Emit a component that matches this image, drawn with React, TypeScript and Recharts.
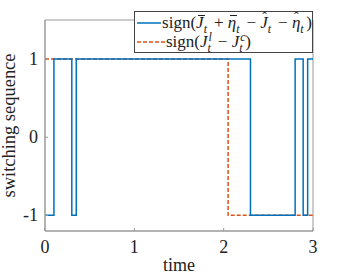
import { LineChart, Line, XAxis, YAxis, ReferenceArea } from "recharts";

// switching times / values (step after)
const blueT = [0, 0.1, 0.3, 0.35, 2.3, 2.8, 2.89, 2.94, 3];
const blueV = [-1, 1, -1, 1, -1, 1, -1, 1, 1];
const orangeT = [0, 2.05, 3];
const orangeV = [1, -1, -1];
const xTicks = [0, 1, 2, 3];
const yTicks = [-1, 0, 1];

const blueData = blueT.map((t, i) => ({ t, v: blueV[i] }));
const orangeData = orangeT.map((t, i) => ({ t, v: orangeV[i] }));

const BLUE = "#0072BD";
const ORANGE = "#D95319";
const FONT = "'Liberation Serif', 'Times New Roman', Times, serif";
const TXT = "#222";

const XTick = (props: any) => {
  const { x, y, payload } = props;
  return (
    <g>
      <line x1={x} y1={y} x2={x} y2={y - 3} stroke="#999" />
      <text x={x} y={y + 22} textAnchor="middle" style={{ fontFamily: FONT, fontSize: 18 }} fill={TXT}>
        {payload.value}
      </text>
    </g>
  );
};

const YTick = (props: any) => {
  const { x, y, payload } = props;
  return (
    <g>
      <line x1={x} y1={y} x2={x + 3} y2={y} stroke="#999" />
      <text x={x - 7} y={y + 6} textAnchor="end" style={{ fontFamily: FONT, fontSize: 18 }} fill={TXT}>
        {payload.value}
      </text>
    </g>
  );
};

const YLabel = (props: any) => {
  const vb = props.viewBox;
  const cx = 15;
  const cy = vb.y + vb.height / 2;
  return (
    <text
      x={cx}
      y={cy}
      transform={`rotate(-90 ${cx} ${cy})`}
      textAnchor="middle"
      textLength={144}
      lengthAdjust="spacingAndGlyphs"
      style={{ fontFamily: FONT, fontSize: 18 }}
      fill={TXT}
    >
      switching sequence
    </text>
  );
};

const XLabel = (props: any) => {
  const vb = props.viewBox;
  return (
    <text
      x={vb.x + vb.width / 2}
      y={271}
      textAnchor="middle"
      textLength={32}
      lengthAdjust="spacingAndGlyphs"
      style={{ fontFamily: FONT, fontSize: 18 }}
      fill={TXT}
    >
      time
    </text>
  );
};

// italic letter with a bar or hat drawn above it
const Acc = ({ c, kind }: { c: string; kind: "bar" | "hat" }) => (
  <span style={{ position: "relative", display: "inline-block" }}>
    <i>{c}</i>
    {kind === "bar" ? (
      <span style={{ position: "absolute", left: 2, right: -1, top: 2, borderTop: "1px solid #222" }} />
    ) : (
      <span style={{ position: "absolute", left: 2, top: -5, fontSize: 14 }}>ˆ</span>
    )}
  </span>
);

// sub/superscript pair stacked after a symbol
const Scripts = ({ sup, sub }: { sup?: string; sub: string }) => (
  <span style={{ position: "relative", display: "inline-block", width: 6, height: 10, fontSize: 12 }}>
    {sup && <i style={{ position: "absolute", left: 1, top: -9 }}>{sup}</i>}
    <i style={{ position: "absolute", left: 0, top: 2 }}>{sub}</i>
  </span>
);

const LegendBox = () => (
  <div
    style={{
      position: "absolute",
      left: 134,
      top: 11,
      width: 179,
      height: 42,
      background: "#fff",
      border: "1px solid #444",
      boxSizing: "border-box",
      fontFamily: FONT,
      fontSize: 17,
      color: TXT,
      lineHeight: "19px",
      padding: "1px 0 0 2px",
    }}
  >
    <div style={{ display: "flex", alignItems: "center", whiteSpace: "nowrap" }}>
      <svg width={28} height={10} style={{ marginRight: 1 }}>
        <line x1={0} y1={5} x2={28} y2={5} stroke={BLUE} strokeWidth={1.5} />
      </svg>
      <span>
        sign(<Acc c="J" kind="bar" />
        <Scripts sub="t" /> + <Acc c="η" kind="bar" />
        <Scripts sub="t" /> − <Acc c="J" kind="hat" />
        <Scripts sub="t" /> − <Acc c="η" kind="hat" />
        <Scripts sub="t" />)
      </span>
    </div>
    <div style={{ display: "flex", alignItems: "center", whiteSpace: "nowrap" }}>
      <svg width={28} height={10} style={{ marginRight: 1 }}>
        <line x1={0} y1={5} x2={28} y2={5} stroke={ORANGE} strokeWidth={1.5} strokeDasharray="4 2" />
      </svg>
      <span>
        sign(<i>J</i>
        <Scripts sup="l" sub="t" /> − <i>J</i>
        <Scripts sup="c" sub="t" />)
      </span>
    </div>
  </div>
);

export default function App() {
  return (
    <div style={{ position: "absolute", left: 0, top: 0, width: 346, height: 278, background: "#fff", fontFamily: FONT }}>
      <LineChart width={346} height={278} margin={{ top: 20, right: 33, bottom: 0, left: 0 }}>
        <XAxis
          type="number"
          dataKey="t"
          domain={[0, 3]}
          ticks={xTicks}
          tick={<XTick />}
          tickSize={0}
          tickMargin={0}
          axisLine={{ stroke: "#999" }}
          tickLine={false}
          allowDuplicatedCategory={false}
          height={47}
          label={<XLabel />}
        />
        <YAxis
          type="number"
          dataKey="v"
          width={45}
          domain={[-1.2, 1.5]}
          ticks={yTicks}
          tick={<YTick />}
          tickSize={0}
          tickMargin={0}
          axisLine={{ stroke: "#999" }}
          tickLine={false}
          label={<YLabel />}
        />
        <ReferenceArea x1={0} x2={3} y1={-1.2} y2={1.5} fill="none" stroke="#999" ifOverflow="visible" />
        <Line
          data={orangeData}
          dataKey="v"
          type="stepAfter"
          stroke={ORANGE}
          strokeWidth={1.5}
          strokeDasharray="4 2"
          dot={false}
          isAnimationActive={false}
        />
        <Line
          data={blueData}
          dataKey="v"
          type="stepAfter"
          stroke={BLUE}
          strokeWidth={1.5}
          dot={false}
          isAnimationActive={false}
        />
      </LineChart>
      <LegendBox />
    </div>
  );
}
